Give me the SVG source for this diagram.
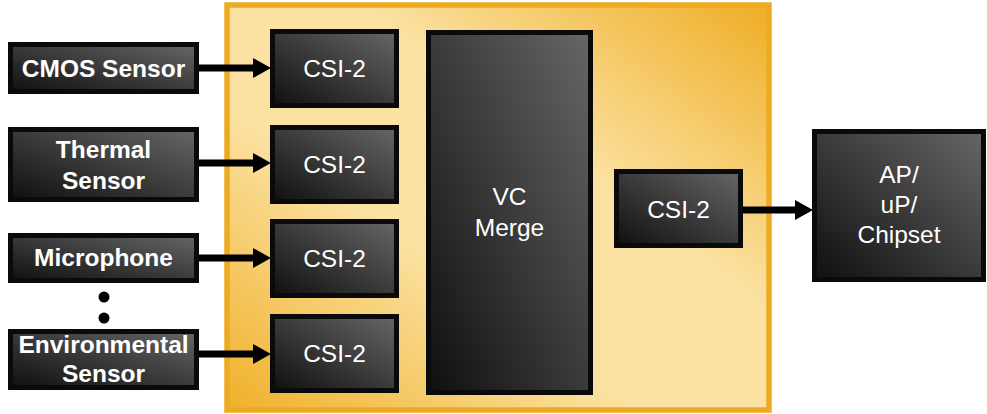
<svg xmlns="http://www.w3.org/2000/svg" width="987" height="414" viewBox="0 0 987 414">
<defs>
<linearGradient id="gold" x1="0" y1="1" x2="1" y2="0">
<stop offset="0" stop-color="#f0b02a"/>
<stop offset="0.38" stop-color="#fbe2a3"/>
<stop offset="0.62" stop-color="#fbe2a3"/>
<stop offset="1" stop-color="#efae26"/>
</linearGradient>
<linearGradient id="dark" x1="0" y1="1" x2="1" y2="0">
<stop offset="0" stop-color="#0f0f0f"/>
<stop offset="1" stop-color="#666666"/>
</linearGradient>
<marker id="ah" markerUnits="userSpaceOnUse" markerWidth="18" markerHeight="20" refX="0" refY="10" orient="auto">
<path d="M0,0 L18,10 L0,20 z" fill="#000"/>
</marker>
<style>
.node{fill:url(#dark);stroke:#0a0a0a;stroke-width:5}
.lb{font-family:"Liberation Sans",Arial,sans-serif;font-weight:bold;font-size:24.5px;fill:#fff;text-anchor:middle}
.lr{font-family:"Liberation Sans",Arial,sans-serif;font-size:24.5px;fill:#fff;text-anchor:middle}
.conn{stroke:#000;stroke-width:7;fill:none;marker-end:url(#ah)}
</style>
</defs>
<rect width="987" height="414" fill="#fff"/>
<g id="chip">
<rect x="227" y="5" width="542" height="405" fill="url(#gold)" stroke="#ecab22" stroke-width="5.5"/>
</g>
<g id="cmos"><rect class="node" x="10.5" y="44.5" width="186" height="47"/><text class="lb" x="103.5" y="77">CMOS Sensor</text></g>
<g id="thermal"><rect class="node" x="10.5" y="129.5" width="186" height="70"/><text class="lb" x="103.5" y="158">Thermal</text><text class="lb" x="103.5" y="189">Sensor</text></g>
<g id="microphone"><rect class="node" x="10.5" y="235.5" width="186" height="45"/><text class="lb" x="103.5" y="266">Microphone</text></g>
<g id="dots"><circle cx="104" cy="297" r="5.5" fill="#000"/><circle cx="104" cy="318" r="5.5" fill="#000"/></g>
<g id="environmental"><rect class="node" x="10.5" y="331.5" width="186" height="56"/><text class="lb" x="103.5" y="353">Environmental</text><text class="lb" x="103.5" y="382">Sensor</text></g>
<g id="csi1"><rect class="node" x="272.5" y="31.5" width="124" height="74"/><text class="lr" x="334.5" y="77">CSI-2</text></g>
<g id="csi2"><rect class="node" x="272.5" y="127.5" width="124" height="74"/><text class="lr" x="334.5" y="173">CSI-2</text></g>
<g id="csi3"><rect class="node" x="272.5" y="221.5" width="124" height="74"/><text class="lr" x="334.5" y="267">CSI-2</text></g>
<g id="csi4"><rect class="node" x="272.5" y="316.5" width="124" height="74"/><text class="lr" x="334.5" y="362">CSI-2</text></g>
<g id="vcmerge"><rect class="node" x="428.5" y="32.5" width="162" height="360"/><text class="lr" x="509.5" y="205">VC</text><text class="lr" x="509.5" y="236">Merge</text></g>
<g id="csiout"><rect class="node" x="616.5" y="171.5" width="124" height="74"/><text class="lr" x="678.5" y="218">CSI-2</text></g>
<g id="ap"><rect class="node" x="814.5" y="131.5" width="169" height="148"/><text class="lr" x="899" y="183">AP/</text><text class="lr" x="899" y="213">uP/</text><text class="lr" x="899" y="243">Chipset</text></g>
<g id="connectors">
<line class="conn" x1="199" y1="68" x2="253" y2="68"/>
<line class="conn" x1="199" y1="163" x2="253" y2="163"/>
<line class="conn" x1="199" y1="258" x2="253" y2="258"/>
<line class="conn" x1="199" y1="354" x2="253" y2="354"/>
<line class="conn" x1="743" y1="210" x2="795" y2="210"/>
</g>
</svg>
